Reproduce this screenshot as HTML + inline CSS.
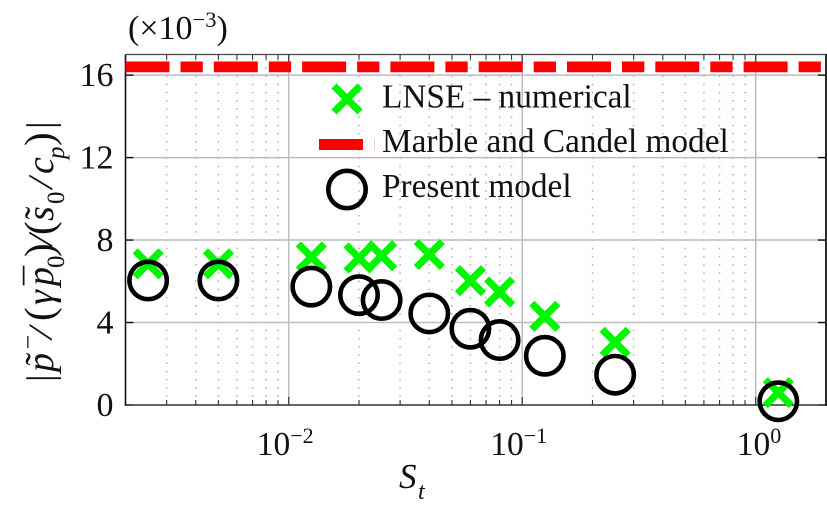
<!DOCTYPE html>
<html lang="en">
<head>
<meta charset="utf-8">
<title>Pressure amplitude versus Strouhal number</title>
<style>
html,body{margin:0;padding:0;background:#fff;}
svg{display:block;font-family:"Liberation Serif",serif;fill:#111;}
</style>
</head>
<body>
<svg id="chart" width="827" height="509" viewBox="0 0 827 509" xmlns="http://www.w3.org/2000/svg">
<g id="grid-minor"></g>
<g id="grid-major"></g>
<g id="axes"></g>
<g id="lnse"></g>
<g id="marble"></g>
<g id="present"></g>
<g id="ticklabels"></g>

<text x="128" y="39" font-size="34">(×10<tspan font-size="22.5" dy="-12">−3</tspan><tspan dy="12">)</tspan></text>

<g>
  <g>
    <path d="M334 86L360 112M360 86L334 112" stroke="#00f500" stroke-width="7.2" fill="none"/>
    <text x="382" y="107.5" font-size="33.3">LNSE – numerical</text>
  </g>
  <g>
    <rect x="319" y="139" width="44" height="11" fill="#ff0000"/>
    <rect x="374" y="139" width="1" height="11" fill="#ffc8c8"/>
    <text x="382" y="152" font-size="33.3">Marble and Candel model</text>
  </g>
  <g>
    <circle cx="347" cy="189.5" r="18.7" fill="none" stroke="#000" stroke-width="4.6"/>
    <text x="382" y="197" font-size="33.3">Present model</text>
  </g>
</g>

<text font-style="italic"><tspan x="399" y="488" font-size="35">S</tspan><tspan x="418" y="499" font-size="24">t</tspan></text>

<g transform="translate(53,381) rotate(-90)" font-size="38">
  <text x="-1" y="0">|</text>
  <text x="9" y="0" font-style="italic">p</text>
  <text x="15.7" y="-1.4">˜</text>
  <text x="31.5" y="-16.5" font-size="26">−</text>
  <text x="42.7" y="0" transform="rotate(15 48 -9.5)">/</text>
  <text x="60" y="0" font-size="41">(</text>
  <text x="76" y="0" font-style="italic">γ</text>
  <text x="95" y="0" font-style="italic">p</text>
  <text x="96" y="-1.4">¯</text>
  <text x="113" y="11" font-size="25">0</text>
  <text x="124" y="0" font-size="41">)</text>
  <text x="135.7" y="0" transform="rotate(12 141 -9.5)">/</text>
  <text x="146" y="0" font-size="41">(</text>
  <text x="160" y="0" font-style="italic">s</text>
  <text x="161.7" y="-2">˜</text>
  <text x="177" y="11" font-size="25">0</text>
  <text x="192.7" y="0" transform="rotate(12 198 -9.5)">/</text>
  <text x="207" y="0" font-style="italic">c</text>
  <text x="222" y="11" font-size="25" font-style="italic">p</text>
  <text x="235" y="0" font-size="41">)</text>
  <text x="252" y="0">|</text>
</g>
</svg>
<script>
// Chart data
const stValues = [0.0025, 0.005, 0.0125, 0.02, 0.025, 0.04, 0.06, 0.08, 0.125, 0.25, 1.25];
const lnseValues = [6.85, 6.85, 7.18, 7.13, 7.24, 7.3, 6.03, 5.48, 4.3, 3.04, 0.6];
const presentValues = [6.04, 6.04, 5.74, 5.33, 5.09, 4.44, 3.7, 3.15, 2.39, 1.47, 0.18];
const marbleValues = [16.4, 16.4];
const marbleSt = [0.002, 1.95];
const yTicks = [0, 4, 8, 12, 16];
const xDecades = [-2, -1, 0];

const SVGNS = 'http://www.w3.org/2000/svg';
const plot = { left: 125.5, right: 826, top: 54.5, bottom: 405 };
const xDomain = [0.002, 2];
const yDomain = [0, 17];

function xScale(v) {
  const a = Math.log10(xDomain[0]), b = Math.log10(xDomain[1]);
  return plot.left + (Math.log10(v) - a) / (b - a) * (plot.right - plot.left);
}
function yScale(v) {
  return plot.bottom - (v - yDomain[0]) / (yDomain[1] - yDomain[0]) * (plot.bottom - plot.top);
}
function make(tag, parentId, attrs) {
  const el = document.createElementNS(SVGNS, tag);
  for (const k in attrs) el.setAttribute(k, attrs[k]);
  document.getElementById(parentId).appendChild(el);
  return el;
}

// Minor vertical grid and minor ticks
for (let d = -3; d <= 0; d++) {
  for (let m = 2; m <= 9; m++) {
    const v = m * Math.pow(10, d);
    if (v <= xDomain[0] || v >= xDomain[1]) continue;
    const x = xScale(v);
    const g = make('line', 'grid-minor', { x1: x, x2: x, y1: plot.bottom, y2: plot.top, stroke: '#b0b0b0', 'stroke-width': 1.5, 'stroke-dasharray': '1.5 6.7' });
    
    
    const t1 = make('line', 'axes', { x1: x, x2: x, y1: plot.bottom, y2: plot.bottom - 5, stroke: '#333', 'stroke-width': 1.1 });
    
    
    const t2 = make('line', 'axes', { x1: x, x2: x, y1: plot.top, y2: plot.top + 5, stroke: '#333', 'stroke-width': 1.1 });
    
    
  }
}

// Major grid, ticks and tick labels
xDecades.forEach(function (d) {
  const x = xScale(Math.pow(10, d));
  const g = make('line', 'grid-major', { x1: x, x2: x, y1: plot.top, y2: plot.bottom, stroke: '#bcbcbc', 'stroke-width': 1.5 });
  
  
  const t1 = make('line', 'axes', { x1: x, x2: x, y1: plot.bottom, y2: plot.bottom - 8, stroke: '#333', 'stroke-width': 1.2 });
  
  
  const t2 = make('line', 'axes', { x1: x, x2: x, y1: plot.top, y2: plot.top + 8, stroke: '#333', 'stroke-width': 1.2 });
  
  
  const label = make('text', 'ticklabels', { x: x - 32 + (d === 0 ? 13 : 0), y: 455, 'font-size': 33.5 });
  
  
  label.textContent = '10';
  const sup = make('tspan', 'ticklabels', { dy: -12, 'font-size': 22 });
  sup.textContent = d < 0 ? '−' + Math.abs(d) : String(d);
  label.appendChild(sup);
});
yTicks.forEach(function (v) {
  const y = yScale(v);
  if (v > 0) {
    const g = make('line', 'grid-major', { x1: plot.left, x2: plot.right, y1: y, y2: y, stroke: '#bcbcbc', 'stroke-width': 1.5 });
    
    
  }
  const t1 = make('line', 'axes', { x1: plot.left, x2: plot.left + 8, y1: y, y2: y, stroke: '#111', 'stroke-width': 1.4 });
  
  
  const t2 = make('line', 'axes', { x1: plot.right, x2: plot.right - 8, y1: y, y2: y, stroke: '#111', 'stroke-width': 1.4 });
  
  
  const label = make('text', 'ticklabels', { x: 113.5, y: y + 11, 'font-size': 34, 'text-anchor': 'end' });
  
  
  label.textContent = String(v);
});

// Plot frame
const frameTop = make('line', 'axes', { x1: plot.left, x2: plot.right + 1, y1: plot.top, y2: plot.top, stroke: '#444', 'stroke-width': 1.2 });


const frameBottom = make('line', 'axes', { x1: plot.left, x2: plot.right + 1, y1: plot.bottom, y2: plot.bottom, stroke: '#333', 'stroke-width': 1.4 });


const frameLeft = make('line', 'axes', { x1: plot.left, x2: plot.left, y1: plot.top, y2: plot.bottom + 0.7, stroke: '#111', 'stroke-width': 1.6 });


const frameRight = make('line', 'axes', { x1: plot.right, x2: plot.right, y1: plot.top, y2: plot.bottom + 0.7, stroke: '#111', 'stroke-width': 1.8 });



// LNSE crosses
const half = 13;
stValues.forEach(function (st, i) {
  const x = xScale(st), y = yScale(lnseValues[i]);
  const c = make('path', 'lnse', { d: 'M' + (x - half) + ' ' + (y - half) + 'L' + (x + half) + ' ' + (y + half) + 'M' + (x + half) + ' ' + (y - half) + 'L' + (x - half) + ' ' + (y + half), stroke: '#00f500', 'stroke-width': 7.2, fill: 'none' });
  
  
});

// Marble and Candel dashed line
const marbleLine = make('line', 'marble', { x1: xScale(marbleSt[0]), x2: xScale(marbleSt[1]), y1: yScale(marbleValues[0]), y2: yScale(marbleValues[1]), stroke: '#ff0000', 'stroke-width': 10.8, 'stroke-dasharray': '44 11 22.3 11' });



// Present model circles
stValues.forEach(function (st, i) {
  const c = make('circle', 'present', { cx: xScale(st), cy: yScale(presentValues[i]), r: 18.7, fill: 'none', stroke: '#000', 'stroke-width': 4.6 });
  
  
});
</script>
</body>
</html>
